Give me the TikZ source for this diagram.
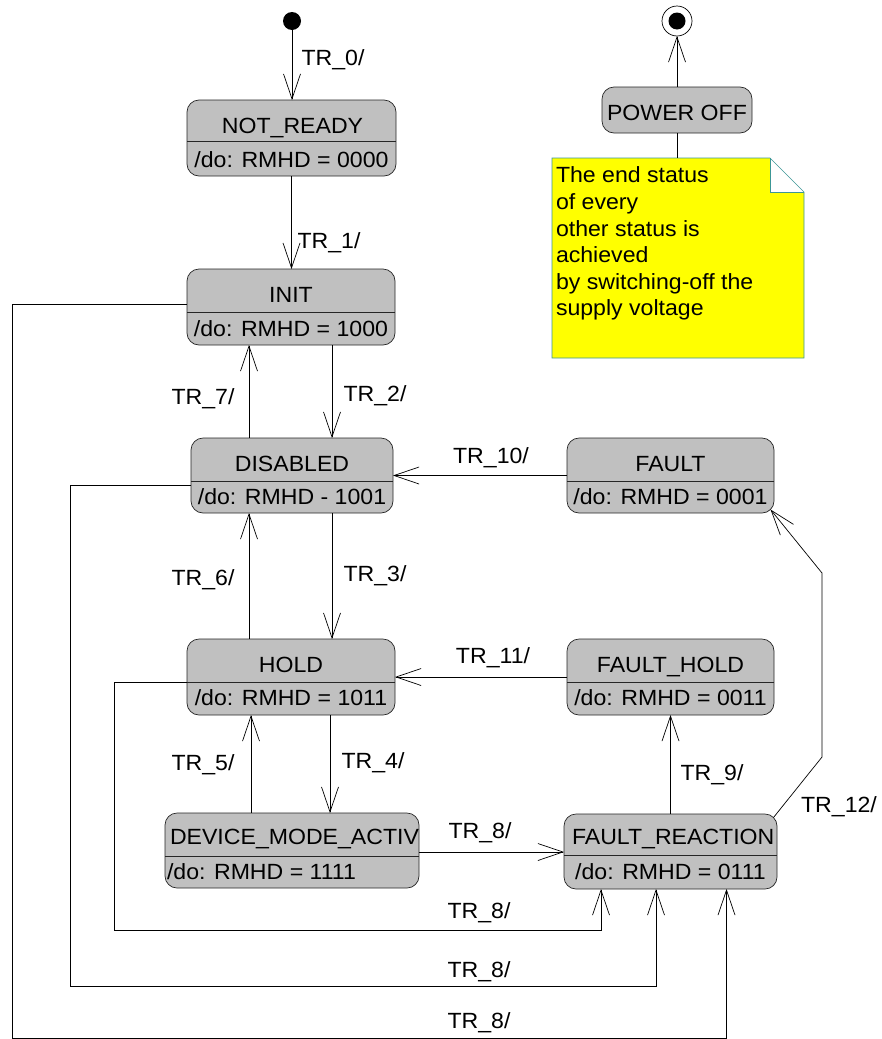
\documentclass[tikz,border=0pt]{standalone}
\usepackage{fontspec}
\setmainfont{Liberation Sans}[FakeStretch=1.05]
\usetikzlibrary{arrows.meta,calc}
\definecolor{boxgray}{RGB}{192,192,192}
\definecolor{notebord}{RGB}{60,150,150}
\definecolor{noteyellow}{RGB}{255,255,0}
\begin{document}
\begin{tikzpicture}[x=1pt,y=-1pt, line width=0.7pt,
  every node/.style={font=\fontsize{22}{26.6}\selectfont, inner sep=0pt, outer sep=0pt},
  state/.style={draw=black!85, fill=boxgray, rounded corners=12pt, rectangle},
  lbl/.style={anchor=base},
  lblw/.style={anchor=base west},
  arr/.style={-{Straight Barb[length=25pt,width=17pt]}},
  divider/.style={draw=black!85}
  ]
\useasboundingbox (0,0) rectangle (882,1039);

% ---------- states ----------
\node[state, minimum width=209pt, minimum height=76pt] (notready) at (291.5,138) {};
\draw[divider] (notready.west |- 0,141) -- (notready.east |- 0,141);
\node[lbl] at (292.5,133) {NOT\_READY};
\node[lbl] at (291.5,167) {/do: RMHD = 0000};

\node[state, minimum width=208pt, minimum height=76pt] (init) at (291,307) {};
\draw[divider] (init.west |- 0,312) -- (init.east |- 0,312);
\node[lbl] at (291,302) {INIT};
\node[lbl] at (291,336) {/do: RMHD = 1000};

\node[state, minimum width=202pt, minimum height=75pt] (disabled) at (292,475.5) {};
\draw[divider] (disabled.west |- 0,481) -- (disabled.east |- 0,481);
\node[lbl] at (292,471) {DISABLED};
\node[lbl] at (292,504) {/do: RMHD - 1001};

\node[state, minimum width=207pt, minimum height=75pt] (fault) at (670.5,475.5) {};
\draw[divider] (fault.west |- 0,481) -- (fault.east |- 0,481);
\node[lbl] at (670.5,471) {FAULT};
\node[lbl] at (670.5,504) {/do: RMHD = 0001};

\node[state, minimum width=208pt, minimum height=76pt] (hold) at (291,677) {};
\draw[divider] (hold.west |- 0,682) -- (hold.east |- 0,682);
\node[lbl] at (291,672) {HOLD};
\node[lbl] at (291,705) {/do: RMHD = 1011};

\node[state, minimum width=207pt, minimum height=76pt] (faulthold) at (670.5,677) {};
\draw[divider] (faulthold.west |- 0,682) -- (faulthold.east |- 0,682);
\node[lbl] at (670.5,672) {FAULT\_HOLD};
\node[lbl] at (670.5,705) {/do: RMHD = 0011};

\node[state, minimum width=254pt, minimum height=75pt] (dma) at (292,850.5) {};
\draw[divider] (dma.west |- 0,856) -- (dma.east |- 0,856);
\node[lblw] at (170,844) {DEVICE\_MODE\_ACTIV};
\node[lblw] at (167,879) {/do: RMHD = 1111};

\node[state, minimum width=213pt, minimum height=75pt] (fr) at (670.5,851.5) {};
\draw[divider] (fr.west |- 0,855) -- (fr.east |- 0,855);
\node[lblw] at (572,844) {FAULT\_REACTION};
\node[lbl] at (670.5,879) {/do: RMHD = 0111};

\node[state, minimum width=150pt, minimum height=46pt] (poweroff) at (677,110) {};
\node[lbl] at (677,120) {POWER OFF};

% ---------- pseudo states ----------
\node[circle, fill=black, minimum size=18pt] (start) at (292,21) {};
\node[circle, draw=black, fill=white, minimum size=30pt] (final) at (677,21) {};
\fill[black] (final.center) circle (8.5pt);

% ---------- note ----------
\node[rectangle, minimum width=252pt, minimum height=200pt] (note) at (678,258) {};
\fill[noteyellow] (note.north west) -- ([xshift=-34pt]note.north east) -- ([xshift=-34pt,yshift=-34pt]note.north east)
  -- ([yshift=-34pt]note.north east) -- (note.south east) -- (note.south west) -- cycle;
\draw[notebord] (note.north west) -- ([xshift=-34pt]note.north east) -- ([yshift=-34pt]note.north east)
  -- (note.south east) -- (note.south west) -- cycle;
\draw[notebord] ([xshift=-34pt]note.north east) -- ([xshift=-34pt,yshift=-34pt]note.north east) -- ([yshift=-34pt]note.north east);
\node[anchor=north west, align=left] (notetext) at (556,167) {The end status\\of every\\other status is\\achieved\\by switching-off the\\supply voltage};
\draw (poweroff.south) -- (poweroff.south |- note.north);
\draw[arr] (poweroff.north) -- (final.south);

% ---------- transitions ----------
\draw[arr] (start.south) -- (start.south |- notready.north);
\node[lbl] at (333,65) {TR\_0/};

\draw[arr] (notready.south) -- (notready.south |- init.north);
\node[lbl] at (329,248) {TR\_1/};

\draw[arr] ([xshift=41pt]init.south) -- ([xshift=41pt]init.south |- disabled.north);
\node[lbl] at (375,401) {TR\_2/};

\draw[arr] ([xshift=-43pt]disabled.north) -- ([xshift=-43pt]disabled.north |- init.south);
\node[lbl] at (203,404) {TR\_7/};

\draw[arr] ([xshift=40pt]disabled.south) -- ([xshift=40pt]disabled.south |- hold.north);
\node[lbl] at (375,581) {TR\_3/};

\draw[arr] ([xshift=-42pt]hold.north) -- ([xshift=-42pt]hold.north |- disabled.south);
\node[lbl] at (203,585) {TR\_6/};

\draw[arr] ([xshift=39pt]hold.south) -- ([xshift=39pt]hold.south |- dma.north);
\node[lbl] at (373,768) {TR\_4/};

\draw[arr] ([xshift=-41pt]dma.north) -- ([xshift=-41pt]dma.north |- hold.south);
\node[lbl] at (203,770) {TR\_5/};

\draw[arr] (fault.west) -- (fault.west -| disabled.east);
\node[lbl] at (491,463) {TR\_10/};

\draw[arr] (faulthold.west) -- (faulthold.west -| hold.east);
\node[lbl] at (493,663) {TR\_11/};

\draw[arr] (fr.north) -- (fr.north |- faulthold.south);
\node[lbl] at (712,780) {TR\_9/};

\draw[arr] (dma.east |- 0,852) -- (fr.west |- 0,852);
\node[lbl] at (480,838) {TR\_8/};

\coordinate (k1) at (822,757);
\coordinate (k2) at (822,573);
\draw[arr] ([xshift=-3.5pt,yshift=-3.5pt]fr.north east) -- (k1) -- (k2) -- ([xshift=-3.5pt,yshift=3.5pt]fault.south east);
\node[lbl] at (839,812) {TR\_12/};

\draw[arr] ([yshift=-5pt]hold.west) -| (114,930) -| ([xshift=-69.5pt]fr.south);
\node[lbl] at (479,918) {TR\_8/};

\draw[arr] ([yshift=-9.5pt]disabled.west) -| (70,986) -| ([xshift=-14.5pt]fr.south);
\node[lbl] at (479,977) {TR\_8/};

\draw[arr] ([yshift=3pt]init.west) -| (12,1038) -| ([xshift=56pt]fr.south);
\node[lbl] at (479,1028) {TR\_8/};
\end{tikzpicture}
\end{document}
